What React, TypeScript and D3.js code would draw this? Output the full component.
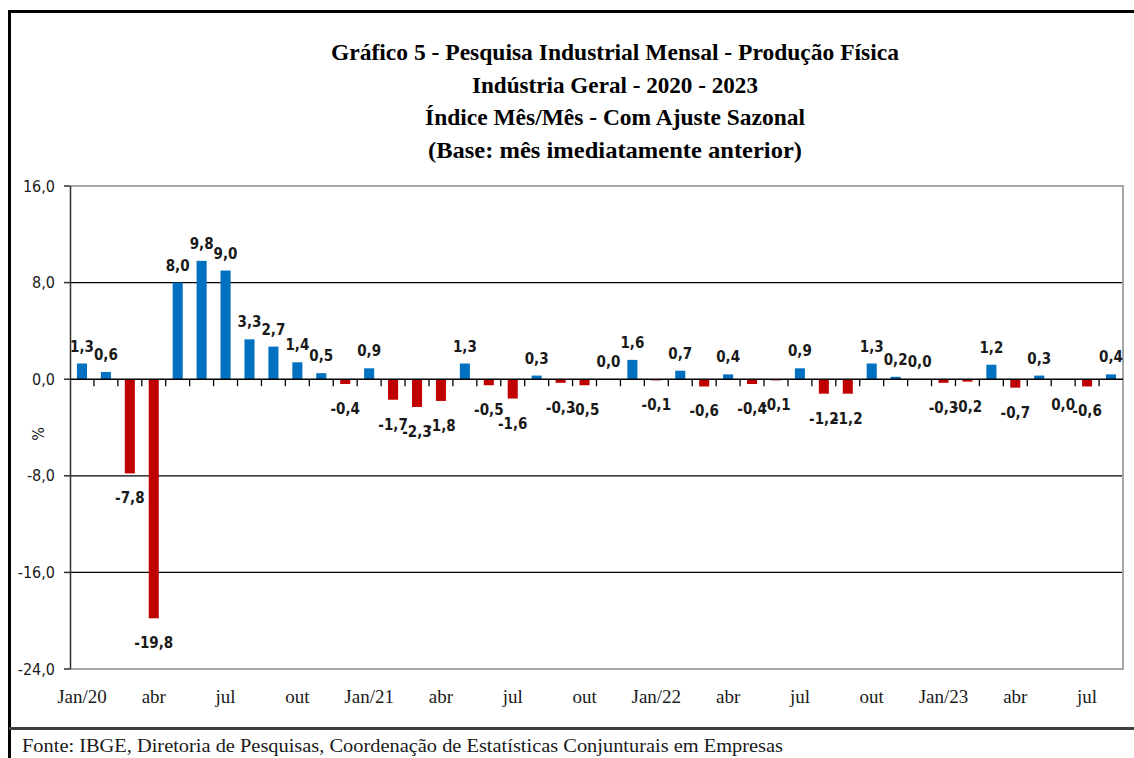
import * as d3 from "d3";

// Produção física, indústria geral, variação mês/mês com ajuste sazonal (%)
const months = [
  "Jan/20", "fev", "mar", "abr", "mai", "jun", "jul", "ago", "set", "out", "nov", "dez",
  "Jan/21", "fev", "mar", "abr", "mai", "jun", "jul", "ago", "set", "out", "nov", "dez",
  "Jan/22", "fev", "mar", "abr", "mai", "jun", "jul", "ago", "set", "out", "nov", "dez",
  "Jan/23", "fev", "mar", "abr", "mai", "jun", "jul", "ago",
];
const values2020 = [1.3, 0.6, -7.8, -19.8, 8.0, 9.8, 9.0, 3.3, 2.7, 1.4, 0.5, -0.4];
const values2021 = [0.9, -1.7, -2.3, -1.8, 1.3, -0.5, -1.6, 0.3, -0.3, -0.5, 0.0, 1.6];
const values2022 = [-0.1, 0.7, -0.6, 0.4, -0.4, -0.1, 0.9, -1.2, -1.2, 1.3, 0.2, 0.0];
const values2023 = [-0.3, -0.2, 1.2, -0.7, 0.3, -0.04, -0.6, 0.4];
const yTicks = [16, 8, 0, -8, -16, -24];

const titleLines = [
  "Gráfico 5 - Pesquisa Industrial Mensal - Produção Física",
  "Indústria Geral - 2020 - 2023",
  "Índice Mês/Mês - Com Ajuste Sazonal",
  "(Base: mês imediatamente anterior)",
];
const titleWidths = [568, 286, 380, 374];
const source =
  "Fonte: IBGE, Diretoria de Pesquisas, Coordenação de Estatísticas Conjunturais em Empresas";

const W = 1134;
const H = 758;
const plot = { left: 70, right: 1123, top: 186, bottom: 669 };

const fmt = (v: number) => {
  const r = Math.round(v * 10) / 10;
  return (r === 0 ? 0 : r).toFixed(1).replace(".", ",");
};

export default function App() {
  const values = [...values2020, ...values2021, ...values2022, ...values2023];
  const data = months.map((m, i) => ({ key: i, month: m, value: values[i] }));

  const x = d3
    .scaleBand<number>()
    .domain(data.map((d) => d.key))
    .range([plot.left, plot.right])
    .paddingInner(0.58)
    .paddingOuter(0.29);
  const step = x.step();
  const y = d3.scaleLinear().domain([-24, 16]).range([plot.bottom, plot.top]);
  const y0 = y(0);

  const serif = "'Liberation Serif', 'Times New Roman', serif";
  const sansC = "'DejaVu Sans Condensed', 'DejaVu Sans', sans-serif";

  return (
    <svg
      width={W}
      height={H}
      style={{ position: "absolute", left: 0, top: 0, background: "#fff" }}
    >
      <rect x={0} y={0} width={W} height={H} fill="#fff" />
      {/* frame */}
      <path d={`M9.5,${H} V11.5 H${W}`} fill="none" stroke="#000" strokeWidth={3} />
      <line x1={9} x2={W} y1={728.5} y2={728.5} stroke="#404040" strokeWidth={3} />

      {/* title */}
      {titleLines.map((t, i) => (
        <text
          key={i}
          x={615}
          y={60 + i * 32.5}
          textAnchor="middle"
          fontFamily={serif}
          fontWeight="bold"
          fontSize={24}
          fill="#000"
          textLength={titleWidths[i]}
          lengthAdjust="spacingAndGlyphs"
        >
          {t}
        </text>
      ))}

      {/* grid lines */}
      {yTicks
        .filter((t) => t !== 16 && t !== -24 && t !== 0)
        .map((t) => (
          <line key={t} x1={plot.left} x2={plot.right} y1={y(t)} y2={y(t)} stroke="#000" strokeWidth={1.3} />
        ))}

      {/* plot border */}
      <path
        d={`M${plot.left},${plot.top} H${plot.right} V${plot.bottom} H${plot.left}`}
        fill="none"
        stroke="#a6a6a6"
        strokeWidth={2}
      />

      {/* bars */}
      {data.map((d) => (
        <rect
          key={d.key}
          x={x(d.key)}
          width={x.bandwidth()}
          y={Math.min(y(d.value), y0)}
          height={Math.abs(y(d.value) - y0)}
          fill={d.value < 0 ? "#C00000" : "#0070C0"}
        />
      ))}

      {/* y axis */}
      <line x1={plot.left + 0.5} x2={plot.left + 0.5} y1={plot.top} y2={plot.bottom} stroke="#303030" strokeWidth={1.5} />
      {yTicks.map((t) => (
        <g key={t}>
          <line x1={plot.left - 6} x2={plot.left} y1={y(t)} y2={y(t)} stroke="#303030" strokeWidth={1.5} />
          <text
            x={55}
            y={y(t)}
            dy="0.35em"
            textAnchor="end"
            fontFamily={sansC}
            fontSize={16}
            fill="#1a1a1a"
          >
            {fmt(t)}
          </text>
        </g>
      ))}
      <text
        transform={`translate(44,434) rotate(-90)`}
        textAnchor="middle"
        fontFamily={sansC}
        fontSize={16}
        fill="#1a1a1a"
      >
        %
      </text>

      {/* zero line and x ticks */}
      <line x1={plot.left} x2={plot.right} y1={y0} y2={y0} stroke="#000" strokeWidth={1.6} />
      {d3.range(1, months.length).map((k) => (
        <line
          key={k}
          x1={plot.left + k * step}
          x2={plot.left + k * step}
          y1={y0}
          y2={y0 + 7}
          stroke="#000"
          strokeWidth={1.3}
        />
      ))}

      {/* x labels */}
      {data
        .filter((d) => d.key % 3 === 0)
        .map((d) => (
          <text
            key={d.key}
            x={(x(d.key) ?? 0) + x.bandwidth() / 2}
            y={703}
            textAnchor="middle"
            fontFamily={serif}
            fontSize={19}
            fill="#1a1a1a"
          >
            {d.month}
          </text>
        ))}

      {/* data labels */}
      {data.map((d) => (
        <text
          key={d.key}
          x={(x(d.key) ?? 0) + x.bandwidth() / 2}
          y={d.value < 0 ? y(d.value) + 30 : y(d.value) - 12}
          textAnchor="middle"
          fontFamily={sansC}
          fontWeight="bold"
          fontSize={15}
          fill="#1a1a1a"
        >
          {fmt(d.value)}
        </text>
      ))}

      {/* source */}
      <text
        x={22}
        y={752}
        fontFamily={serif}
        fontSize={19}
        fill="#1a1a1a"
        textLength={761}
        lengthAdjust="spacingAndGlyphs"
      >
        {source}
      </text>
    </svg>
  );
}
